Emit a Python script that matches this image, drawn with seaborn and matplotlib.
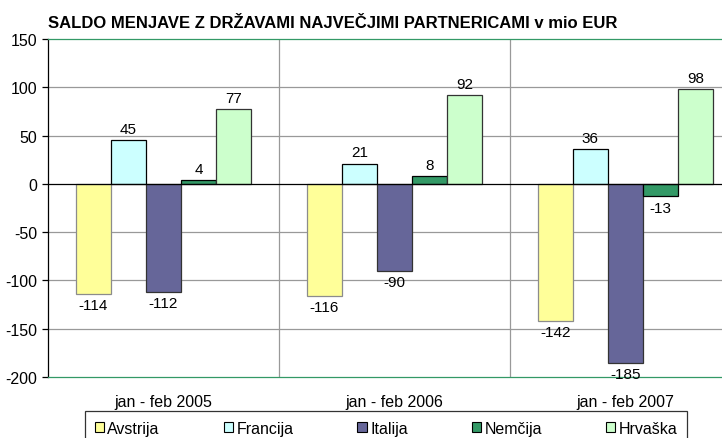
import matplotlib
matplotlib.use('Agg')
import matplotlib.pyplot as plt
import pandas as pd
import seaborn as sns

# data
periods = ['jan - feb 2005', 'jan - feb 2006', 'jan - feb 2007']
countries = ['Avstrija', 'Francija', 'Italija', 'Nemčija', 'Hrvaška']
avstrija = [-114, -116, -142]
francija = [45, 21, 36]
italija = [-112, -90, -185]
nemcija = [4, 8, -13]
hrvaska = [77, 92, 98]

colors = ['#FFFF99', '#CCFFFF', '#666699', '#339966', '#CCFFCC']
edges = ['#8c8c8c', '#000000', '#333333', '#000000', '#333333']

rows = []
for country, vals in zip(countries, [avstrija, francija, italija, nemcija, hrvaska]):
    for p, v in zip(periods, vals):
        rows.append({'period': p, 'country': country, 'value': v})
df = pd.DataFrame(rows)

sns.set_style('white')
plt.rcParams['font.family'] = ['Liberation Sans', 'DejaVu Sans']
plt.rcParams['axes.unicode_minus'] = False
plt.rcParams['text.color'] = 'black'
plt.rcParams['xtick.color'] = 'black'
plt.rcParams['ytick.color'] = 'black'

fig = plt.figure(figsize=(7.22, 4.39), dpi=100)
ax = fig.add_axes([48 / 722, 61 / 439, 693 / 722, 338 / 439])

sns.barplot(data=df, x='period', y='value', hue='country', order=periods,
            hue_order=countries, palette=colors, width=0.76, gap=0,
            saturation=1, legend=False, ax=ax, zorder=3)

for cont, ec in zip(ax.containers, edges):
    for bar in cont:
        bar.set_edgecolor(ec)
        bar.set_linewidth(0.9)
    ax.bar_label(cont, fmt='%d', padding=3, fontsize=11, color='black')

ax.set_xlim(-0.5, 2.5)
ax.set_ylim(-200, 150)
ax.set_yticks(range(-200, 151, 50))

# grid lines
for y in range(-150, 101, 50):
    if y != 0:
        ax.axhline(y, color='#999999', lw=0.9, zorder=1)
for x in [0.5, 1.5]:
    ax.axvline(x, color='#999999', lw=0.9, zorder=1)
ax.axhline(0, color='#000000', lw=0.9, zorder=4)

ax.spines['right'].set_visible(False)
ax.spines['top'].set_color('#339966')
ax.spines['bottom'].set_color('#339966')
ax.spines['left'].set_color('#000000')
for s in ['top', 'bottom', 'left']:
    ax.spines[s].set_linewidth(0.9)

ax.tick_params(axis='y', left=True, length=4.5, width=0.9, color='#000000',
               labelsize=11.5, pad=3.5)
ax.tick_params(axis='x', bottom=False, labelsize=11.5, pad=9)
ax.set_xlabel('')
ax.set_ylabel('')

fig.text(48 / 722, 1 - 23 / 439, 'SALDO MENJAVE Z DRŽAVAMI NAJVEČJIMI PARTNERICAMI v mio EUR',
         fontsize=12, fontweight='bold', va='center', ha='left', color='black')

handles = [plt.Rectangle((0, 0), 1, 1, facecolor=c, edgecolor='#000000', lw=0.8) for c in colors]
leg = fig.legend(handles, countries, loc='upper left', ncol=5,
                 bbox_to_anchor=(85 / 722, 1 - 412 / 439), borderaxespad=0,
                 fontsize=11.5, frameon=True, fancybox=False, handlelength=0.6,
                 handleheight=0.6, handletextpad=0.2, columnspacing=4.0,
                 borderpad=0.6)
leg.get_frame().set_edgecolor('#000000')
leg.get_frame().set_linewidth(0.9)

fig.savefig('out.png', dpi=100)
